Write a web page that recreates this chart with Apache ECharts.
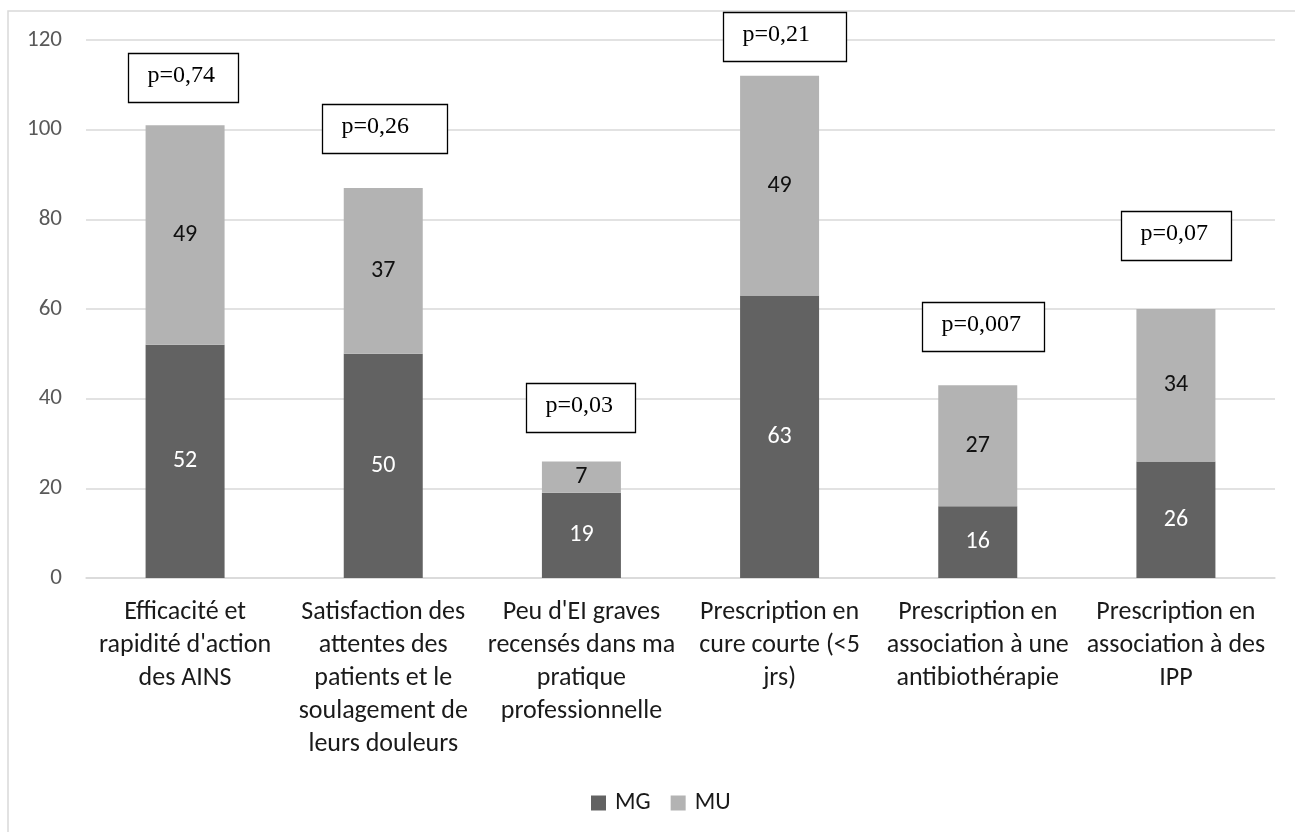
<!DOCTYPE html>
<html>
<head>
<meta charset="utf-8">
<script src="https://cdn.jsdelivr.net/npm/echarts@6/dist/echarts.min.js"></script>
<style>
html,body{margin:0;padding:0;background:#fff;}
#chart{width:1295px;height:832px;}
</style>
</head>
<body>
<div id="chart"></div>
<script>
const categories = [
  "Efficacité et\nrapidité d'action\ndes AINS",
  "Satisfaction des\nattentes des\npatients et le\nsoulagement de\nleurs douleurs",
  "Peu d'EI graves\nrecensés dans ma\npratique\nprofessionnelle",
  "Prescription en\ncure courte (<5\njrs)",
  "Prescription en\nassociation à une\nantibiothérapie",
  "Prescription en\nassociation à des\nIPP"
];
const seriesNames = ["MG", "MU"];
const mgValues = [52, 50, 19, 63, 16, 26];
const muValues = [49, 37, 7, 49, 27, 34];
const pLabels = ["p=0,74", "p=0,26", "p=0,03", "p=0,21", "p=0,007", "p=0,07"];
// vertical anchor (in axis units) of each p-value annotation box
const pAnchorValues = [111.7, 100.2, 38.1, 120.7, 56.2, 76.5];
const yTicks = [0, 20, 40, 60, 80, 100, 120];

// layout/style of annotation boxes (not data)
const boxWidths = [110, 125, 109, 123, 122, 110];
const boxOffsetX = [-2, 1, -1, 5, 5, 0];
const boxHeight = 49;

const chart = echarts.init(document.getElementById('chart'));
const sansFont = "Carlito, Lato, 'Open Sans', sans-serif";

chart.setOption({
  animation: false,
  backgroundColor: '#ffffff',
  grid: { left: 86, right: 20, top: 40, bottom: 254, containLabel: false },
  legend: {
    data: seriesNames,
    left: 586,
    top: 786,
    itemWidth: 15,
    itemHeight: 15,
    itemGap: 20,
    icon: 'rect',
    textStyle: { fontFamily: sansFont, fontSize: 24, color: '#1a1a1a', padding: [0, 0, 0, 4] }
  },
  xAxis: {
    type: 'category',
    data: categories,
    axisLine: { lineStyle: { color: '#d9d9d9', width: 1.5 } },
    axisTick: { show: false },
    axisLabel: {
      interval: 0,
      margin: 18,
      fontFamily: sansFont,
      fontSize: 26,
      lineHeight: 33,
      color: '#1a1a1a',
      align: 'center',
      verticalAlign: 'top'
    }
  },
  yAxis: {
    type: 'value',
    min: yTicks[0],
    max: yTicks[yTicks.length - 1],
    interval: yTicks[1] - yTicks[0],
    axisLine: { show: false },
    axisTick: { show: false },
    axisLabel: { fontFamily: sansFont, fontSize: 23, color: '#595959', margin: 24 },
    splitLine: { lineStyle: { color: '#d9d9d9', width: 1.5 } }
  },
  series: [
    {
      name: seriesNames[0],
      type: 'bar',
      stack: 'total',
      data: mgValues,
      barWidth: 79,
      itemStyle: { color: '#626262' },
      label: { show: true, position: 'inside', fontFamily: sansFont, fontSize: 24, color: '#ffffff' }
    },
    {
      name: seriesNames[1],
      type: 'bar',
      stack: 'total',
      data: muValues,
      barWidth: 79,
      itemStyle: { color: '#b3b3b3' },
      label: { show: true, position: 'inside', fontFamily: sansFont, fontSize: 24, color: '#111111' }
    }
  ]
});

const elements = [
  {
    type: 'rect',
    shape: { x: 8, y: 11, width: 1400, height: 900 },
    style: { fill: 'none', stroke: '#d9d9d9', lineWidth: 1.5 },
    silent: true,
    z: -10
  }
];
pLabels.forEach(function (txt, i) {
  const pt = chart.convertToPixel({ gridIndex: 0 }, [i, pAnchorValues[i]]);
  const w = boxWidths[i];
  const x = Math.round(pt[0] + boxOffsetX[i] - w / 2) + 0.5;
  const y = Math.round(pt[1] - boxHeight / 2) + 0.5;
  elements.push({
    type: 'rect',
    shape: { x: x, y: y, width: w, height: boxHeight },
    style: { fill: '#ffffff', stroke: '#000000', lineWidth: 1.3 },
    z: 100
  });
  elements.push({
    type: 'text',
    x: x + 19,
    y: y + boxHeight / 2 - 2,
    style: {
      text: txt,
      fontFamily: "'Liberation Serif', 'Times New Roman', serif",
      fontSize: 24,
      fill: '#000000',
      textAlign: 'left',
      textVerticalAlign: 'middle'
    },
    z: 101
  });
});
chart.setOption({ graphic: { elements: elements } });
</script>
</body>
</html>
